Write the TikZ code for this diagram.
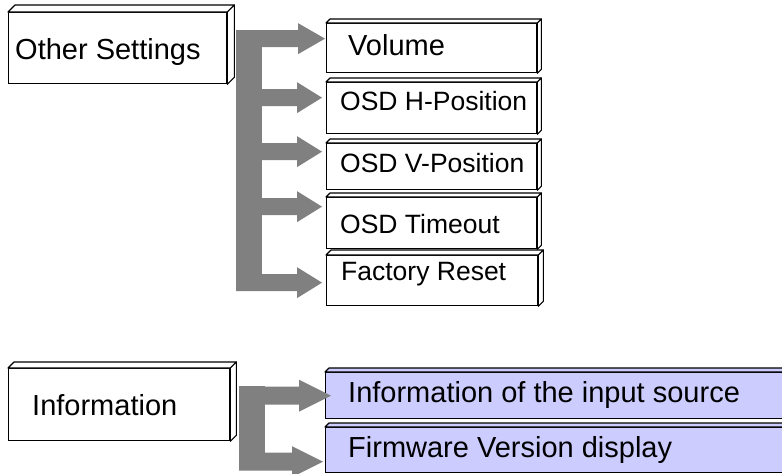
\documentclass[tikz,border=0pt]{standalone}
\usepackage{fontspec}
\setmainfont{Liberation Sans}
\usetikzlibrary{calc}
\definecolor{busgray}{HTML}{808080}
\definecolor{lav}{HTML}{CCCCFF}
\tikzset{
  box/.style={draw=black, line width=1.3pt, fill=white, rectangle, inner sep=0pt, anchor=north west},
  purplebox/.style={box, fill=lav},
  lbl/.style={inner sep=0pt, anchor=base west, font=\fontsize{29}{34}\selectfont},
  lblsmall/.style={lbl, font=\fontsize{26.5}{31}\selectfont},
  bus/.style={fill=busgray, draw=none},
  face/.style={draw=black, line width=1.1pt, line join=round},
}
% cube faces: name, depth, fill
\newcommand{\cubefaces}[3]{%
  \filldraw[face, fill=#3] (#1.north west) -- ($(#1.north west)+(#2,-#2)$) -- ($(#1.north east)+(#2,-#2)$) -- (#1.north east) -- cycle;
  \filldraw[face, fill=#3] (#1.north east) -- ($(#1.north east)+(#2,-#2)$) -- ($(#1.south east)+(#2,-#2)$) -- (#1.south east) -- cycle;
}
% block arrow: start x (pt), tip coordinate, shaft half, head half, head length
\newcommand{\busarrow}[5]{%
  \fill[bus] let \p1=(#2) in (#1pt,\y1+#3pt) -- (\x1-#5pt,\y1+#3pt) -- (\x1-#5pt,\y1+#4pt) -- (\p1)
    -- (\x1-#5pt,\y1-#4pt) -- (\x1-#5pt,\y1-#3pt) -- (#1pt,\y1-#3pt) -- cycle;
}
\begin{document}
\begin{tikzpicture}[x=1pt,y=-1pt]
\clip (0,0) rectangle (782,474);
\fill[white] (0,0) rectangle (782,474);

% ---------- Other Settings group ----------
\node[box, minimum width=218pt, minimum height=71pt] (os) at (8,12) {};
\cubefaces{os}{7}{white}
\node[lbl] (ost) at (15,59) {Other Settings};

\node[box, minimum width=210pt, minimum height=49pt] (vol) at (326,23) {};
\cubefaces{vol}{4}{white}
\node[lbl] (volt) at (348,55) {Volume};

\node[box, minimum width=210pt, minimum height=51pt] (osdh) at (326,82) {};
\cubefaces{osdh}{4}{white}
\node[lblsmall] (osdht) at (340,110) {OSD H-Position};

\node[box, minimum width=210pt, minimum height=46pt] (osdv) at (326,143) {};
\cubefaces{osdv}{4}{white}
\node[lblsmall] (osdvt) at (340,172) {OSD V-Position};

\node[box, minimum width=210pt, minimum height=51pt] (osdt) at (326,197) {};
\cubefaces{osdt}{4}{white}
\node[lblsmall] (osdtt) at (340,233) {OSD Timeout};

\node[box, minimum width=211pt, minimum height=50pt] (fr) at (326,255) {};
\cubefaces{fr}{5}{white}
\node[lblsmall] (frt) at (341,280) {Factory Reset};

% bus
\fill[bus] (236,29.5) rectangle (262,290.5);
\coordinate (tvol) at ($(vol.west)+(-1,-9.5)$);
\coordinate (tosdh) at ($(osdh.west)+(-4,-10.5)$);
\coordinate (tosdv) at ($(osdv.west)+(-4,-15)$);
\coordinate (tosdt) at ($(osdt.west)+(-4,-16.5)$);
\coordinate (tfr) at ($(fr.west)+(-4,2)$);
\busarrow{236}{tvol}{8.5}{15.5}{27}
\busarrow{236}{tosdh}{8.5}{15.5}{25}
\busarrow{236}{tosdv}{8.5}{15.5}{25}
\busarrow{236}{tosdt}{8.5}{15.5}{25}
\busarrow{236}{tfr}{8.5}{15.5}{25}

% ---------- Information group ----------
\node[box, minimum width=221pt, minimum height=72pt] (inf) at (8,368) {};
\cubefaces{inf}{6}{white}
\node[lbl] (inft) at (32,415) {Information};

\node[purplebox, minimum width=495pt, minimum height=46pt] (src) at (325,372) {};
\cubefaces{src}{4}{lav}
\node[lbl] (srct) at (348,402) {Information of the input source};

\node[purplebox, minimum width=495pt, minimum height=45pt] (fw) at (325,427) {};
\cubefaces{fw}{4}{lav}
\node[lbl] (fwt) at (348,457) {Firmware Version display};

\fill[bus] (239,386) rectangle (265,470);
\coordinate (tsrc) at ($(src.west)+(6,0)$);
\coordinate (tfw) at ($(fw.west)+(-2,11.5)$);
\busarrow{239}{tsrc}{9}{16}{32}
\busarrow{239}{tfw}{9}{15.5}{31}
\end{tikzpicture}
\end{document}
